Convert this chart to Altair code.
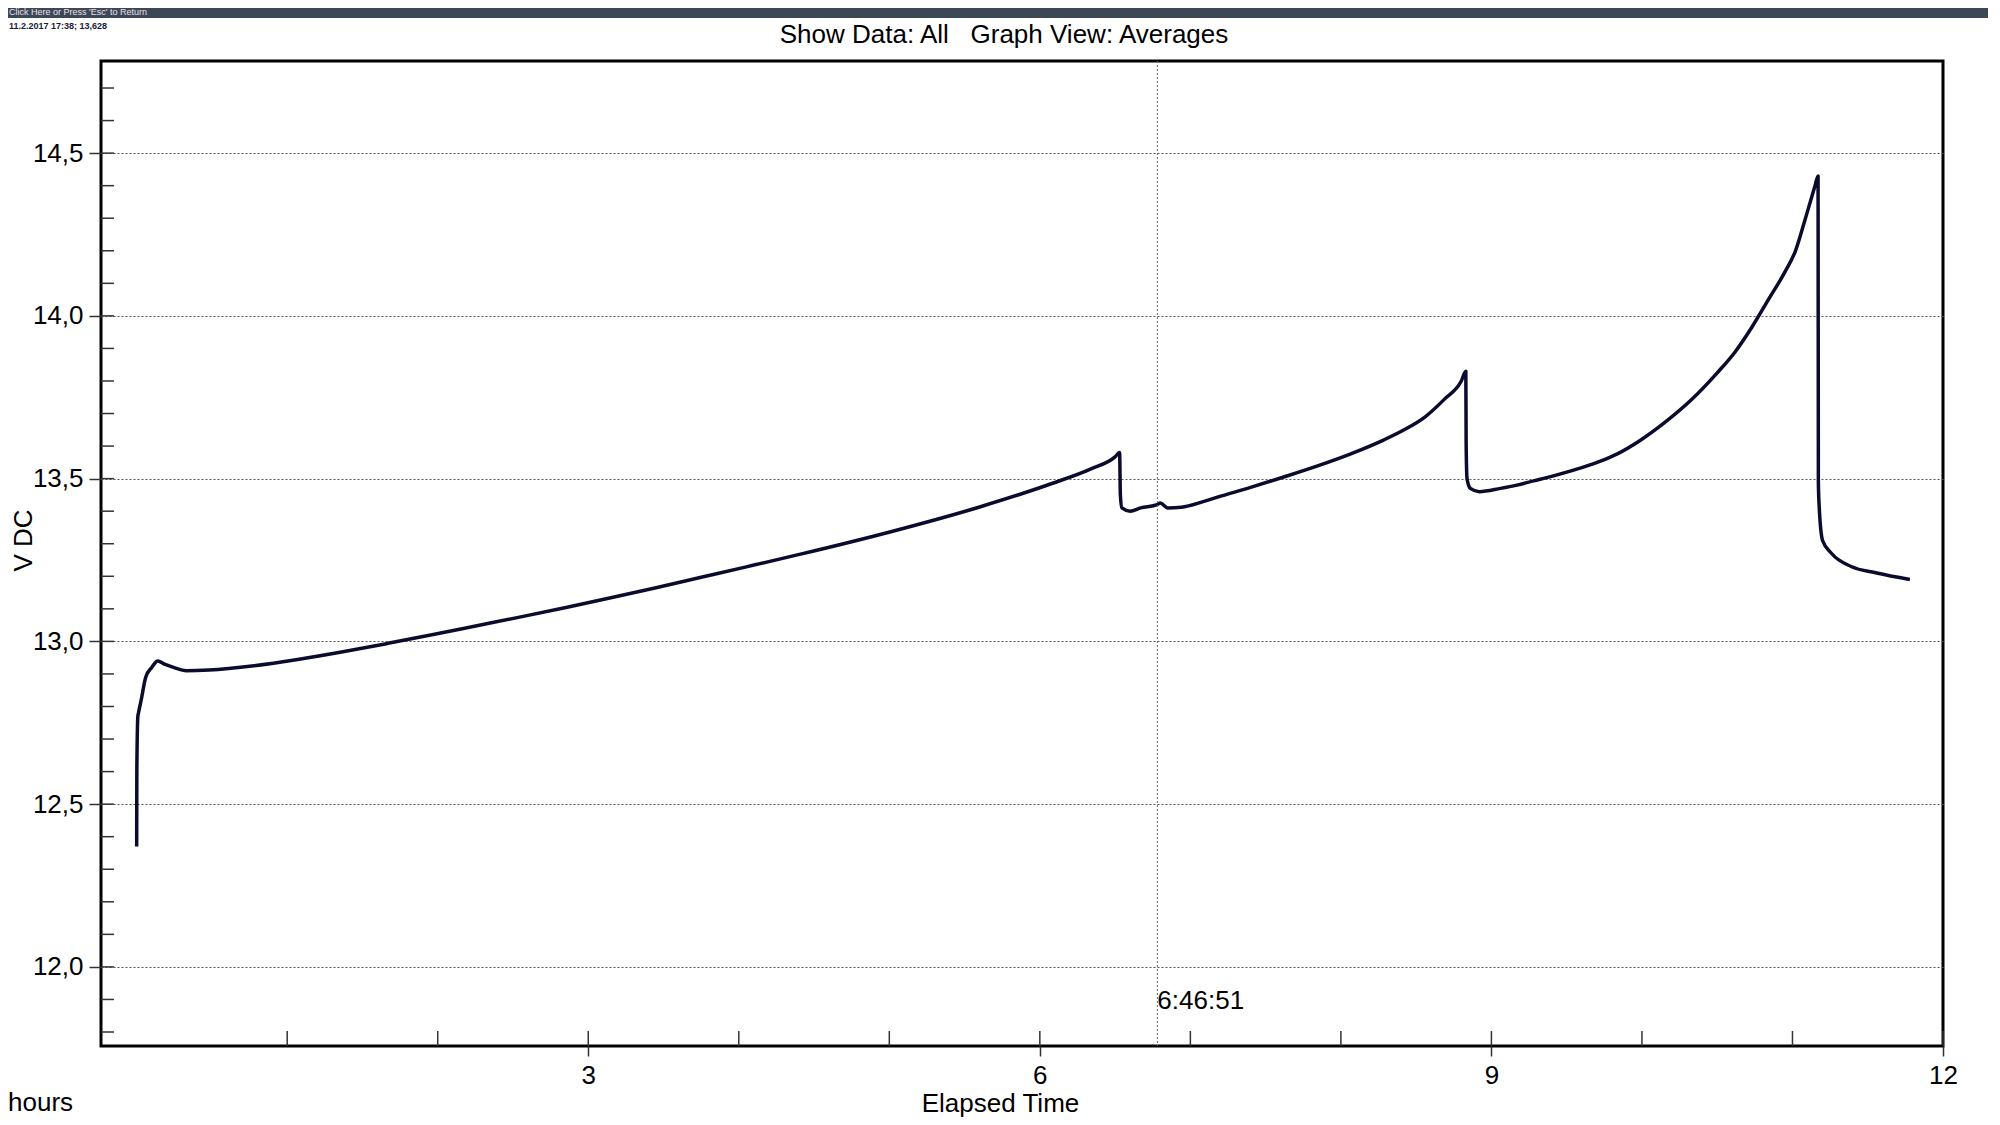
import altair as alt
import pandas as pd

# ---------------- data ----------------
hours = [0.000, 0.001, 0.008, 0.012, 0.03, 0.06, 0.10, 0.14, 0.185, 0.245, 0.33, 0.48,
         0.78, 1.08, 1.37, 1.67, 1.97, 2.26, 2.56, 2.86, 3.15, 3.45, 3.75, 4.05,
         4.41, 5.01, 5.60, 6.08, 6.34, 6.50, 6.53, 6.535, 6.545, 6.60, 6.67, 6.78, 6.80,
         6.85, 6.94, 7.09, 7.18, 7.40, 7.62, 7.85, 8.07, 8.29, 8.42, 8.56, 8.69, 8.80,
         8.83, 8.832, 8.838, 8.86, 8.92, 9.06, 9.17, 9.28, 9.40, 9.50, 9.62, 9.72,
         9.84, 9.98, 10.15, 10.33, 10.50, 10.62, 10.73, 10.84, 10.95, 11.02, 11.08, 11.15,
         11.17, 11.172, 11.178, 11.20, 11.26, 11.39, 11.56, 11.78]
volts = [12.37, 12.60, 12.77, 12.78, 12.82, 12.89, 12.92, 12.94, 12.93, 12.92, 12.91, 12.912,
         12.925, 12.945, 12.968, 12.994, 13.021, 13.048, 13.076, 13.105, 13.134, 13.165, 13.197, 13.229,
         13.268, 13.337, 13.413, 13.485, 13.53, 13.567, 13.58, 13.45, 13.41, 13.40, 13.41, 13.42, 13.425,
         13.41, 13.412, 13.43, 13.443, 13.473, 13.505, 13.54, 13.577, 13.62, 13.65, 13.69, 13.745, 13.80,
         13.83, 13.61, 13.50, 13.47, 13.46, 13.47, 13.48, 13.493, 13.507, 13.52, 13.537, 13.553,
         13.577, 13.615, 13.672, 13.743, 13.825, 13.89, 13.965, 14.05, 14.135, 14.20, 14.29, 14.40,
         14.43, 13.49, 13.41, 13.31, 13.27, 13.23, 13.21, 13.19]
assert len(hours) == len(volts)

x_major = [3, 6, 9, 12]
x_minor = [1, 2, 3, 4, 5, 6, 7, 8, 9, 10, 11, 12]
y_major = [12.0, 12.5, 13.0, 13.5, 14.0, 14.5]
y_minor = [11.8, 11.9, 12.0, 12.1, 12.2, 12.3, 12.4, 12.5, 12.6, 12.7, 12.8, 12.9,
           13.0, 13.1, 13.2, 13.3, 13.4, 13.5, 13.6, 13.7, 13.8, 13.9, 14.0, 14.1,
           14.2, 14.3, 14.4, 14.5, 14.6, 14.7]
cursor_time = [6.7808]
cursor_label = ["6:46:51"]

chart_title = "Show Data: All \u00a0\u00a0Graph View: Averages"
x_title = "Elapsed Time"
y_title = "V DC"
unit_label = "hours"
readout = "11.2.2017 17:38; 13,628"
bar_text = "Click Here or Press 'Esc' to Return"

X_DOMAIN = [-0.237, 12.0]
Y_DOMAIN = [11.757, 14.783]
W, H = 1842, 985
FONT = "Liberation Sans, Arial, sans-serif"
FS = 26

line_df = pd.DataFrame({"i": list(range(len(hours))), "h": hours, "v": volts})
xs = alt.Scale(domain=X_DOMAIN, nice=False, zero=False)
ys = alt.Scale(domain=Y_DOMAIN, nice=False, zero=False)

x_axis = alt.Axis(
    values=x_major, title=x_title, grid=False, domain=False,
    tickSize=10, tickColor="#333", tickWidth=1.5, labelFlush=False,
    labelPadding=19, labelBaseline="middle", labelExpr="format(datum.value, 'd')",
    titleX=899, titleY=57, titleBaseline="middle", titleAlign="center")
y_axis = alt.Axis(
    values=y_major, title=y_title, grid=True, gridDash=[2, 2], gridColor="#555",
    gridWidth=1, domain=False, tickSize=12, tickColor="#333", tickWidth=1.5,
    labelPadding=6, labelFlush=False,
    labelExpr="replace(format(datum.value, '.1f'), '.', ',')",
    titleX=-78, titleY=479, titleBaseline="middle", titleAlign="center", titleAngle=270)

line = alt.Chart(line_df).mark_line(color="#0b0b2d", strokeWidth=3.5, strokeJoin="round",
                                    interpolate="monotone").encode(
    x=alt.X("h:Q", scale=xs, axis=x_axis),
    y=alt.Y("v:Q", scale=ys, axis=y_axis),
    order="i:Q",
)

yt = alt.Chart(pd.DataFrame({"t": y_minor})).mark_rule(color="#333", strokeWidth=1.5).encode(
    y=alt.Y("t:Q", scale=ys, axis=y_axis), x=alt.value(0), x2=alt.value(13))
xt = alt.Chart(pd.DataFrame({"t": x_minor})).mark_rule(color="#333", strokeWidth=1.5).encode(
    x=alt.X("t:Q", scale=xs, axis=x_axis), y=alt.value(H), y2=alt.value(H - 15))

cur_df = pd.DataFrame({"t": cursor_time, "lab": cursor_label})
cursor = alt.Chart(cur_df).mark_rule(color="#666", strokeWidth=1, strokeDash=[2, 2]).encode(
    x=alt.X("t:Q", scale=xs, axis=x_axis), y=alt.value(0), y2=alt.value(H))
cursor_txt = alt.Chart(cur_df).mark_text(align="left", baseline="middle", font=FONT,
                                         fontSize=FS, color="black", dx=0).encode(
    x=alt.X("t:Q", scale=xs, axis=x_axis), y=alt.value(940), text="lab:N")


def label(txt, x, y, size=FS, align="left", color="black", weight="normal", font=FONT):
    return alt.Chart(pd.DataFrame({"s": [txt]})).mark_text(
        align=align, baseline="middle", font=font, fontSize=size, color=color,
        fontWeight=weight).encode(x=alt.value(x), y=alt.value(y), text="s:N")


bar = alt.Chart(pd.DataFrame({"a": [0]})).mark_rect(color="#3d4856").encode(
    x=alt.value(-93), x2=alt.value(W + 45), y=alt.value(-53), y2=alt.value(-43))

layers = [
    line,
    bar,
    yt, xt, cursor, cursor_txt,
    label(chart_title, 903, -26, align="center"),
    label(unit_label, -93, H + 57),
    label(readout, -92, -35, size=9, color="#1a1a3a", weight="bold"),
    label(bar_text, -92, -49, size=9, color="#e8e0ea"),
]

chart = alt.layer(*layers).properties(
    width=W, height=H,
    autosize=alt.AutoSizeParams(type="none"),
    padding={"left": 93, "top": 53, "right": 45, "bottom": 71},
    background="white",
).configure_view(stroke="black", strokeWidth=3).configure_axis(
    labelFont=FONT, titleFont=FONT, labelFontSize=FS, titleFontSize=FS,
    labelColor="black", titleColor="black", titleFontWeight="normal",
)

chart.save("out.html", embed_options={"renderer": "svg", "actions": False})
